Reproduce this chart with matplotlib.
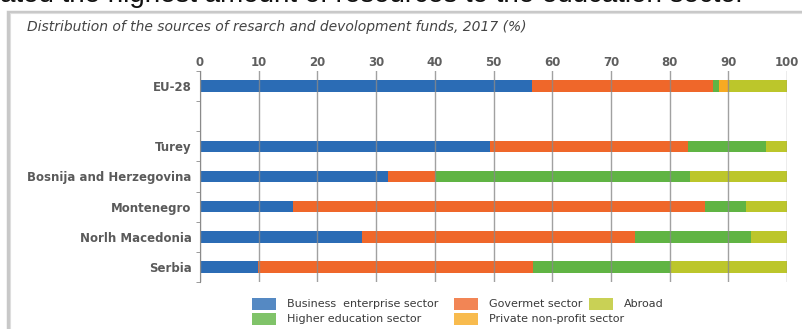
import matplotlib.pyplot as plt
from matplotlib.patches import Rectangle
import numpy as np

# -----------------------
# Data (% of R&D funds by source, 2017)
# -----------------------
countries = ["EU-28", "Turey", "Bosnija and Herzegovina", "Montenegro",
             "Norlh Macedonia", "Serbia"]

business = [56.6, 49.4, 32.0, 15.9, 27.6, 9.9]
government = [30.8, 33.7, 8.1, 70.2, 46.5, 46.9]
higher_edu = [1.1, 13.3, 43.4, 7.0, 19.8, 23.3]
private_np = [1.7, 0.0, 0.0, 0.0, 0.0, 0.0]
abroad = [9.8, 3.6, 16.5, 6.9, 6.1, 19.9]

x_ticks = [0, 10, 20, 30, 40, 50, 60, 70, 80, 90, 100]

series = [
    ("Business  enterprise sector", business, "#2b6cb5"),
    ("Govermet sector", government, "#ef672a"),
    ("Higher education sector", higher_edu, "#60b444"),
    ("Private non-profit sector", private_np, "#f7aa22"),
    ("Abroad", abroad, "#bcc62b"),
]

# EU-28 sits on its own with one empty row below it
rows = [0, 2, 3, 4, 5, 6]

W, H = 802, 329
fig = plt.figure(figsize=(W / 100, H / 100), dpi=100)
fig.patch.set_facecolor("white")


def fx(px):
    return px / W


def fy(py):
    return 1 - py / H


# heading text running off the top edge
fig.text(fx(745), fy(-5.5), "allocated the highest amount of resources to the education sector",
         ha="right", va="center", fontsize=20, color="#111111",
         family="Liberation Sans")

# framed panel with a soft shadow on the left
fig.patches.append(Rectangle((fx(8), fy(340)), fx(900), fy(12) - fy(340),
                             transform=fig.transFigure, facecolor="none",
                             edgecolor="#c8c8c8", linewidth=2.5, zorder=-2))
fig.patches.append(Rectangle((fx(10), fy(340)), fx(900), fy(13) - fy(340),
                             transform=fig.transFigure, facecolor="white",
                             edgecolor="#dedede", linewidth=0.8, zorder=-1))

fig.text(fx(27), fy(27), "Distribution of the sources of resarch and devolopment funds, 2017 (%)",
         ha="left", va="center", fontsize=10, style="italic", color="#444444",
         family="DejaVu Sans")

# -----------------------
# Plot
# -----------------------
ax = fig.add_axes([fx(200), fy(282), fx(787) - fx(200), fy(71) - fy(282)])
ax.set_facecolor("none")

left = np.zeros(len(countries))
for label, vals, color in series:
    ax.barh(rows, vals, left=left, height=0.38, color=color, label=label,
            zorder=2)
    left += np.array(vals)

ax.set_xlim(0, 100)
ax.set_ylim(6.5, -0.5)
ax.set_xticks(x_ticks)
ax.xaxis.tick_top()
ax.tick_params(axis="x", length=0, pad=1.5, labelsize=8.5, labelcolor="#5f5f5f")
for t in ax.get_xticklabels():
    t.set_fontweight("bold")

ax.set_yticks(rows)
ax.set_yticklabels(countries)
ax.set_yticks(np.arange(-0.5, 7.0, 1.0), minor=True)
ax.tick_params(axis="y", which="major", length=0, pad=6, labelsize=8.5,
               labelcolor="#5a5a5a")
ax.tick_params(axis="y", which="minor", length=3, color="#8a8a8a")
for t in ax.get_yticklabels():
    t.set_fontweight("bold")

ax.grid(axis="x", color="#8a8a8a", linewidth=1.0, alpha=0.8, zorder=3)
ax.set_axisbelow(False)
for side in ["top", "right", "bottom"]:
    ax.spines[side].set_visible(False)
ax.spines["left"].set_color("#8a8a8a")

# -----------------------
# Legend (laid out by hand)
# -----------------------
legend_items = [
    (0, 252, 304), (1, 454, 304), (4, 589, 304),
    (2, 252, 319), (3, 454, 319),
]
for idx, px, py in legend_items:
    label, _, color = series[idx]
    fig.patches.append(Rectangle((fx(px), fy(py + 6)), fx(24), fy(py - 6) - fy(py + 6),
                                 transform=fig.transFigure, facecolor=color,
                                 edgecolor="none", alpha=0.8))
    fig.text(fx(px + 35), fy(py), label, ha="left", va="center", fontsize=8,
             color="#3a3a3a")

fig.savefig("out.png", dpi=100)
